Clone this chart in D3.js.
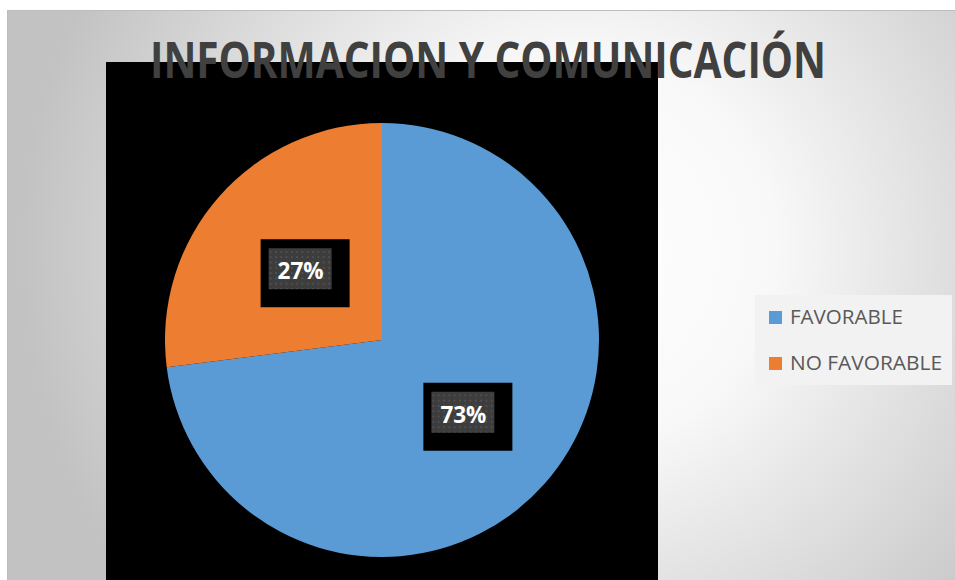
<!DOCTYPE html>
<html><head><meta charset="utf-8">
<script src="https://cdn.jsdelivr.net/npm/d3@7"></script>
<style>html,body{margin:0;padding:0;background:#fff;}svg{display:block;}</style>
</head><body>
<svg id="c" width="955" height="580"></svg>
<script>
const title = "INFORMACION Y COMUNICACIÓN";
const categories = ["FAVORABLE", "NO FAVORABLE"];
const values = [73, 27];
const colors = ["#5B9BD5", "#ED7D31"];

const svg = d3.select("#c");
const defs = svg.append("defs");
const rg = defs.append("radialGradient").attr("id", "bg")
  .attr("gradientUnits", "userSpaceOnUse")
  .attr("cx", 580).attr("cy", 250).attr("r", 560);
rg.append("stop").attr("offset", "0").attr("stop-color", "#ffffff");
rg.append("stop").attr("offset", "0.35").attr("stop-color", "#f8f8f8");
rg.append("stop").attr("offset", "1").attr("stop-color", "#c2c2c2");

const pat = defs.append("pattern").attr("id", "dots")
  .attr("patternUnits", "userSpaceOnUse").attr("width", 5.3).attr("height", 5.3);
pat.append("rect").attr("width", 5.3).attr("height", 5.3).attr("fill", "#3d3d3d");
pat.append("rect").attr("x", 1).attr("y", 1).attr("width", 1.6).attr("height", 1.6).attr("fill", "#555");

// chart area
svg.append("rect").attr("x", 7).attr("y", 10).attr("width", 948).attr("height", 570)
  .attr("fill", "url(#bg)");
svg.append("line").attr("x1", 7).attr("x2", 955).attr("y1", 10.5).attr("y2", 10.5).attr("stroke", "#bdbdbd");
svg.append("line").attr("x1", 7.5).attr("x2", 7.5).attr("y1", 10).attr("y2", 580).attr("stroke", "#bdbdbd");

// black plot background
svg.append("rect").attr("x", 106).attr("y", 62).attr("width", 552).attr("height", 518).attr("fill", "#000");

// pie
const cx = 382, cy = 340, R = 217;
const pie = d3.pie().sort(null).value(d => d)(values);
const arc = d3.arc().innerRadius(0).outerRadius(R);
const g = svg.append("g").attr("transform", `translate(${cx},${cy})`);
g.selectAll("path").data(pie).join("path")
  .attr("d", arc).attr("fill", (d, i) => colors[i]);

// data labels
const labelArc = d3.arc().innerRadius(R * 0.5).outerRadius(R * 0.5);
pie.forEach((d, i) => {
  const [lx, ly] = labelArc.centroid(d);
  const x = cx + lx, y = cy + ly + 3;
  const lg = svg.append("g").attr("transform", `translate(${x},${y})`);
  lg.append("rect").attr("x", -40).attr("y", -32).attr("width", 89).attr("height", 68).attr("fill", "#000");
  lg.append("rect").attr("x", -32).attr("y", -23).attr("width", 63).attr("height", 41).attr("fill", "url(#dots)");
  lg.append("text").attr("x", 0).attr("y", 8).attr("text-anchor", "middle")
    .attr("font-family", "'Open Sans', sans-serif").attr("font-weight", 700)
    .attr("font-size", 23).attr("fill", "#fff").attr("textLength", 46)
    .attr("lengthAdjust", "spacingAndGlyphs")
    .text(Math.round(values[i]) + "%");
});

// title
svg.append("text").attr("x", 488).attr("y", 78).attr("text-anchor", "middle")
  .attr("font-family", "'Open Sans', sans-serif").attr("font-weight", 700)
  .attr("font-size", 50).attr("fill", "#404040")
  .attr("textLength", 676).attr("lengthAdjust", "spacingAndGlyphs")
  .text(title);

// legend
svg.append("rect").attr("x", 755).attr("y", 295).attr("width", 197).attr("height", 90).attr("fill", "#f2f2f2");
const legW = [113, 152];
const lgd = svg.append("g");
categories.forEach((c, i) => {
  const y = 317 + i * 46;
  lgd.append("rect").attr("x", 769).attr("y", y - 6).attr("width", 13).attr("height", 13).attr("fill", colors[i]);
  lgd.append("text").attr("x", 790).attr("y", y + 7)
    .attr("font-family", "'Open Sans', sans-serif").attr("font-size", 20).attr("fill", "#595959")
    .attr("textLength", legW[i]).attr("lengthAdjust", "spacingAndGlyphs")
    .text(c);
});
</script>
</body></html>
